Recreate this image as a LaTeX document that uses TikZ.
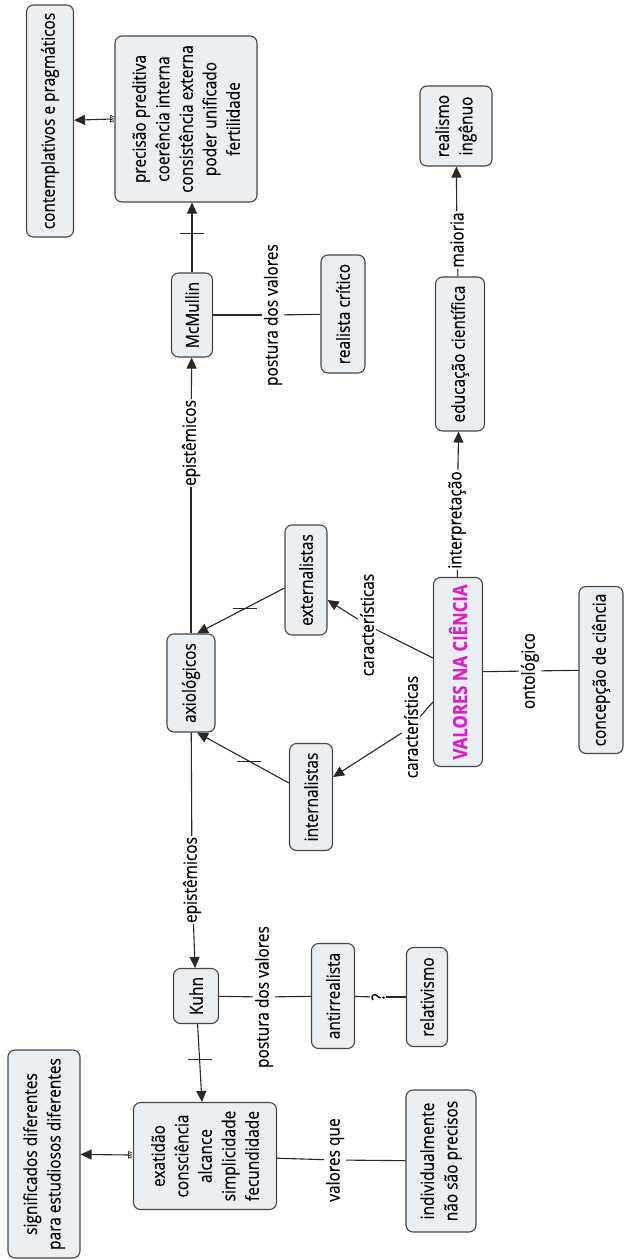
\documentclass[tikz,border=0pt]{standalone}
\usepackage{fontspec}
\setmainfont{Open Sans}[FakeStretch=0.86, FakeBold=0.3]
\usetikzlibrary{arrows.meta}
\definecolor{boxfill}{RGB}{233,239,243}
\definecolor{boxline}{RGB}{70,70,70}
\definecolor{linkcol}{RGB}{40,40,40}
\definecolor{titlecol}{RGB}{222,30,200}
\newcommand{\cmapfont}{\fontsize{18}{23.5}\selectfont}
\tikzset{
  concept/.style={draw=boxline, fill=boxfill, rounded corners=7pt, line width=1.1pt,
    rotate=90, align=center, inner sep=2pt, font=\cmapfont},
  linklabel/.style={fill=white, rotate=90, inner xsep=1pt, inner ysep=2pt, font=\cmapfont},
  tinylabel/.style={rotate=90, inner sep=0pt, font=\fontsize{5}{5}\selectfont},
  link/.style={draw=linkcol, line width=1.1pt},
  arr/.style={link, -{Triangle[length=11pt,width=10pt]}},
  tickmark/.style={draw=linkcol, line width=1pt}
}
\begin{document}
\begin{tikzpicture}[x=1pt,y=-1pt]
\useasboundingbox (0,0) rectangle (625,1260);
\fill[white] (0,0) rectangle (625,1260);

% concepts
\node[concept, minimum width=232pt, minimum height=47pt] (contemp) at (50,121) {contemplativos e pragmáticos};
\node[concept, minimum width=166pt, minimum height=142pt] (prec) at (186,119) {precisão preditiva\\coerência interna\\consistência externa\\poder unificado\\fertilidade};
\node[concept, minimum width=84pt, minimum height=41pt] (mcm) at (192,315) {McMullin};
\node[concept, minimum width=118pt, minimum height=44pt] (realc) at (343,314) {realista crítico};
\node[concept, minimum width=80pt, minimum height=72pt] (reali) at (456,126) {realismo\\ingênuo};
\node[concept, minimum width=154pt, minimum height=49pt] (educ) at (460,354) {educação científica};
\node[concept, minimum width=189pt, minimum height=49pt, text=titlecol, font=\fontsize{19.5}{23.5}\selectfont\bfseries] (val) at (458,672) {VALORES NA CIÊNCIA};
\node[concept, minimum width=167pt, minimum height=44pt] (conc) at (601,670) {concepção de ciência};
\node[concept, minimum width=110pt, minimum height=42pt] (ext) at (306,580) {externalistas};
\node[concept, minimum width=107pt, minimum height=43pt] (int) at (311,797) {internalistas};
\node[concept, minimum width=98pt, minimum height=48pt] (axio) at (191,683) {axiológicos};
\node[concept, minimum width=55pt, minimum height=45pt] (kuhn) at (196,996) {Kuhn};
\node[concept, minimum width=105pt, minimum height=43pt] (antir) at (333,996) {antirrealista};
\node[concept, minimum width=99pt, minimum height=41pt] (relat) at (427,997) {relativismo};
\node[concept, minimum width=107pt, minimum height=143pt] (exat) at (205,1156) {exatidão\\consciência\\alcance\\simplicidade\\fecundidade};
\node[concept, minimum width=208pt, minimum height=72pt] (signif) at (44,1154) {significados diferentes\\para estudiosos diferentes};
\node[concept, minimum width=142pt, minimum height=70pt] (indiv) at (441,1161) {individualmente\\não são precisos};

% linking phrases
\node[tinylabel] (lp1) at (112,119) {????};
\node[linklabel] (lmaioria) at (457,240) {maioria};
\node[linklabel] (lpost1) at (273,315) {postura dos valores};
\node[linklabel] (lepi1) at (191,443) {epistêmicos};
\node[linklabel] (linterp) at (457,520) {interpretação};
\node[linklabel] (lcar1) at (367,625) {características};
\node[linklabel] (lcar2) at (411,727) {características};
\node[linklabel] (lonto) at (530,671) {ontológico};
\node[linklabel] (lepi2) at (192,880) {epistêmicos};
\node[linklabel] (lpost2) at (264,997) {postura dos valores};
\node[linklabel, inner ysep=1pt] (lq) at (378,997) {?};
\node[tinylabel] (lp2) at (130,1155) {????};
\node[linklabel] (lvq) at (335,1160) {valores que};

% connectors
\draw[arr] (lp1) -- (contemp);
\draw[arr] (mcm) -- coordinate[pos=.56] (t1) (mcm.center |- prec.west);
\draw[link] (mcm) -- (lpost1);
\draw[link] (lpost1) -- (realc);
\draw[link] (axio) -- (lepi1);
\draw[arr] (lepi1) -- (mcm);
\draw[link] (axio) -- (lepi2);
\draw[arr] (lepi2) -- (kuhn);
\draw[arr] ([yshift=-8pt]ext.north) -- coordinate[pos=.45] (t2) ([xshift=6pt]axio.east);
\draw[arr] ([yshift=14pt]int.north) -- coordinate[pos=.43] (t3) ([xshift=6pt]axio.west);
\draw[link] ([yshift=14pt]val.north) -- (lcar1);
\draw[arr] (lcar1) -- ([yshift=-20pt]ext.south);
\draw[link] ([yshift=-30pt]val.north) -- (lcar2);
\draw[arr] (lcar2) -- ([yshift=20pt]int.south);
\draw[link] (val) -- (lonto);
\draw[link] (lonto) -- (conc);
\draw[link] (val) -- (linterp);
\draw[arr] (linterp) -- (educ);
\draw[link] (educ) -- (lmaioria);
\draw[arr] (lmaioria) -- (reali);
\draw[link] (kuhn) -- (lpost2);
\draw[link] (lpost2) -- (antir);
\draw[link] (antir) -- (lq);
\draw[link] (lq) -- (relat);
\draw[arr] (kuhn) -- coordinate[pos=.45] (t4) (exat);
\draw[link] (exat) -- (lvq);
\draw[link] (lvq) -- (indiv);
\draw[arr] (lp2) -- (signif);

% short bars across some connectors
\foreach \t in {t1,t2,t3,t4}
  \draw[tickmark] ([xshift=-12pt]\t) -- ([xshift=12pt]\t);
\end{tikzpicture}
\end{document}
